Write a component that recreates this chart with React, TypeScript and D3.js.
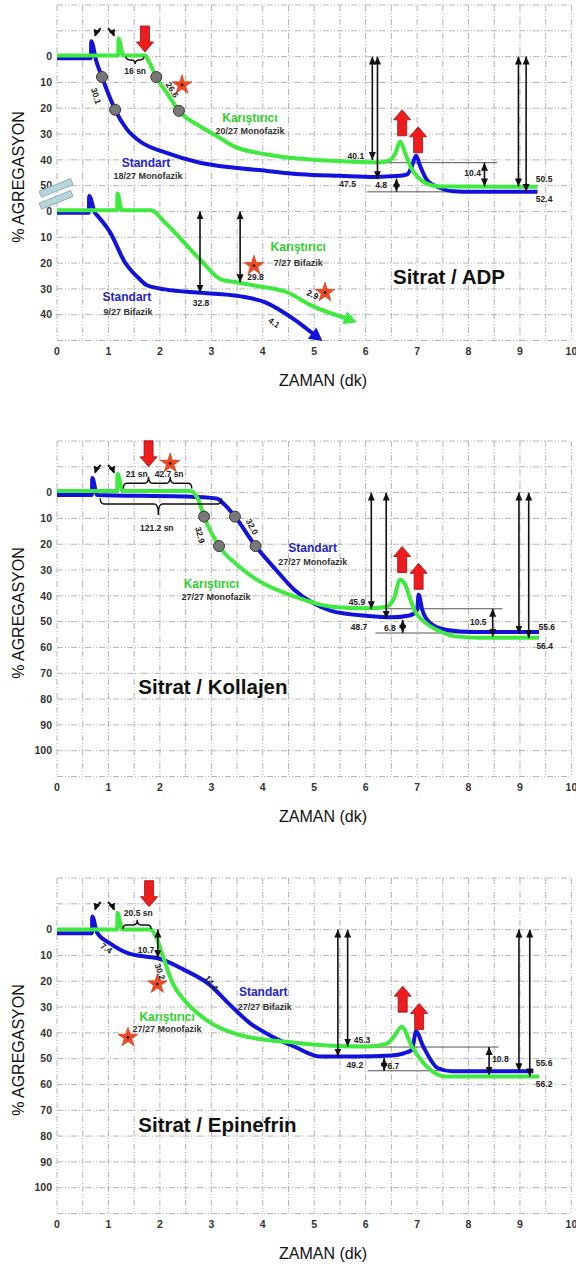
import React from 'react';
import * as d3 from 'd3';

type Pt = [number, number];

// eksenler
const xTicks = d3.range(0, 11);
const yTicksFull = d3.range(0, 101, 10);
const adpUpperTicks = d3.range(0, 51, 10);
const adpLowerTicks = d3.range(0, 41, 10);
const ADP_LOWER_OFFSET = 60;

// Sitrat / ADP - monofazik (ust)
const adpStandart: Pt[] = [
  [0, 0.6], [0.66, 0.6], [0.665, -6], [0.76, 1.5], [0.875, 7.9], [1.0, 14.5], [1.13, 20.6],
  [1.36, 28.2], [1.61, 32.8], [2.13, 37.3], [2.78, 41.1], [3.42, 43], [4.08, 44.3], [4.73, 45.6],
  [5.5, 46.2], [6.2, 46.6], [6.6, 46.3], [6.81, 45.6], [6.9, 42.4], [6.98, 38.4], [7.06, 42.4],
  [7.19, 47.7], [7.45, 50.9], [7.7, 52.2], [8.09, 52.4], [9.34, 52.4],
];
const adpKaristirici: Pt[] = [
  [0, -0.4], [1.19, -0.4], [1.195, -7], [1.29, -0.4], [1.71, -0.4], [1.8, 2.5], [1.93, 7.9],
  [2.15, 14.5], [2.37, 21], [2.78, 27], [3.11, 30.8], [3.43, 34.7], [4.08, 37.9], [4.73, 39.6],
  [5.64, 40.6], [6.28, 41], [6.48, 40], [6.58, 37.4], [6.67, 32.9], [6.77, 37.4], [6.87, 42.6],
  [7.0, 46.4], [7.19, 49.2], [7.45, 50.3], [9.34, 50.4],
];
// Sitrat / ADP - bifazik (alt)
const adpStandartBifazik: Pt[] = [
  [0, 0.5], [0.62, 0.5], [0.625, -6], [0.74, 0.6], [0.78, 1.5], [1.03, 8], [1.32, 19.7],
  [1.61, 26.3], [1.75, 28.6], [2.1, 30.2], [2.82, 31.5], [3.54, 32.8], [4.05, 35.2],
  [4.61, 41.8], [5.16, 50.2],
];
const adpKaristiriciBifazik: Pt[] = [
  [0, -0.5], [1.17, -0.5], [1.175, -7], [1.26, -0.5], [1.83, -0.5], [2.1, 4.3], [2.78, 18.6],
  [3.19, 26.3], [3.54, 27.6], [3.89, 28.9], [4.47, 31.3], [4.96, 36.6], [5.83, 42.9],
];

// Sitrat / Kollajen
const kollajenStandart: Pt[] = [
  [0, 0.9], [0.68, 0.9], [0.685, -5.7], [0.78, 0.9], [2.47, 1.5], [3.1, 2.3], [3.25, 4.5],
  [3.46, 9.3], [3.86, 20.7], [4.26, 30], [4.61, 37.6], [4.97, 42.7], [5.33, 45.8], [6.05, 47.8],
  [6.5, 48.3], [6.85, 47.6], [7.0, 45.5], [7.03, 39.6], [7.1, 45.4], [7.26, 50.6], [7.58, 53.2],
  [8.1, 54], [9.37, 54],
];
const kollajenKaristirici: Pt[] = [
  [0, -0.6], [1.17, -0.6], [1.175, -7.2], [1.28, -0.6], [2.6, -0.6], [2.75, 2.9], [2.86, 9.3],
  [3.15, 20.7], [3.54, 28.6], [3.89, 33.8], [4.61, 40.2], [5.33, 44.2], [6.05, 44.8], [6.4, 44.2],
  [6.55, 41], [6.67, 33.8], [6.77, 35.7], [6.87, 41.5], [6.96, 46], [7.13, 49.9], [7.45, 53.8],
  [7.78, 55.8], [8.2, 56.2], [9.37, 56.2],
];

// Sitrat / Epinefrin
const epiStandart: Pt[] = [
  [0, 1.4], [0.68, 1.4], [0.685, -5.1], [0.78, 1.2], [1.03, 5.3], [1.39, 9.2], [1.75, 10.5],
  [1.96, 11.1], [2.47, 15.6], [2.97, 21.4], [3.33, 28.5], [3.75, 36.2], [4.18, 41.4], [4.61, 45.3],
  [5.12, 49.2], [5.8, 49.2], [6.5, 48.8], [6.75, 47.9], [6.9, 46.6], [6.98, 39.5], [7.12, 45.3],
  [7.4, 53.6], [7.68, 54.9], [9.26, 54.9],
];
const epiKaristirici: Pt[] = [
  [0, 0], [1.17, 0], [1.175, -6.4], [1.27, 0], [1.82, 0], [1.93, 3], [2.04, 9.2], [2.25, 20.8],
  [2.47, 27.2], [2.9, 35], [3.54, 40.8], [4.61, 43.8], [6.04, 45.3], [6.4, 44.3], [6.55, 41.5],
  [6.7, 37.6], [6.9, 45.3], [7.19, 53.1], [7.55, 56.9], [9.37, 56.9],
];

type Lbl = { t: number; v: number; text: string; kind?: string; rot?: number; anchor?: string };
type DArrow = { t: number; v1: number; v2: number };
type HLine = { t1: number; t2: number; v: number };
type Mark = { t: number; v: number };
type RedArrow = { t: number; v: number; dir: 'up' | 'down' };
type Brace = { t1: number; t2: number; cusps: number[]; v: number; endDv: number; cuspDv: number };
type SmallArrow = { t1: number; v1: number; t2: number; v2: number };

const BLUE = '#1212dc';
const GREEN = '#3fea3f';
const FONT = "'Liberation Sans', Arial, Helvetica, sans-serif";

// kisa oklar (trombosit ekleme anlari)
const spikeArrows = (vTop: number): SmallArrow[] => [
  { t1: 0.85, v1: vTop, t2: 0.74, v2: vTop + 2.9 },
  { t1: 0.99, v1: vTop, t2: 1.11, v2: vTop + 2.9 },
];

const panels = [
  {
    top: 5,
    yLabels: adpUpperTicks.map((v) => ({ v, label: String(v) })).concat(
      adpLowerTicks.map((v) => ({ v: v + ADP_LOWER_OFFSET, label: String(v) }))),
    series: [
      { pts: adpStandart, color: BLUE, shift: 0, arrow: false },
      { pts: adpKaristirici, color: GREEN, shift: 0, arrow: false },
      { pts: adpStandartBifazik, color: BLUE, shift: ADP_LOWER_OFFSET, arrow: true },
      { pts: adpKaristiriciBifazik, color: GREEN, shift: ADP_LOWER_OFFSET, arrow: true },
    ],
    dArrows: [
      { t: 6.13, v1: 0, v2: 40.1 }, { t: 6.23, v1: 0, v2: 47.5 }, { t: 8.97, v1: 0, v2: 50.3 },
      { t: 9.12, v1: 0, v2: 52.4 }, { t: 6.6, v1: 47.3, v2: 52.3 }, { t: 8.31, v1: 41.1, v2: 50.3 },
      { t: 2.78, v1: 60, v2: 91.5 }, { t: 3.56, v1: 60, v2: 87.4 },
    ] as DArrow[],
    hLines: [{ t1: 6.03, t2: 8.56, v: 41.1 }, { t1: 6.03, t2: 9.34, v: 52.4 }] as HLine[],
    labels: [
      { t: 1.52, v: 5.5, text: '16 sn' },
      { t: 0.76, v: 15.2, text: '30.1', rot: 72 },
      { t: 2.24, v: 12.9, text: '26.6', rot: 58 },
      { t: 3.75, v: 23.6, text: 'Karıştırıcı', kind: 'kar' },
      { t: 3.75, v: 28.7, text: '20/27 Monofazik', kind: 'sub' },
      { t: 1.73, v: 41.1, text: 'Standart', kind: 'std' },
      { t: 1.77, v: 46.1, text: '18/27 Monofazik', kind: 'sub' },
      { t: 5.81, v: 38.7, text: '40.1' },
      { t: 5.65, v: 49.2, text: '47.5' },
      { t: 6.3, v: 49.6, text: '4.8' },
      { t: 8.08, v: 45.1, text: '10.4' },
      { t: 9.47, v: 47.4, text: '50.5' },
      { t: 9.47, v: 55.2, text: '52.4' },
      { t: 2.8, v: 95.3, text: '32.8' },
      { t: 3.86, v: 85.5, text: '29.8' },
      { t: 4.69, v: 73.6, text: 'Karıştırıcı', kind: 'kar' },
      { t: 4.69, v: 79.8, text: '7/27 Bifazik', kind: 'sub' },
      { t: 1.36, v: 93, text: 'Standart', kind: 'std' },
      { t: 1.38, v: 98.8, text: '9/27 Bifazik', kind: 'sub' },
      { t: 4.97, v: 92.2, text: '2.9', rot: 25 },
      { t: 4.22, v: 103.1, text: '4.1', rot: 35 },
      { t: 7.62, v: 85.2, text: 'Sitrat / ADP', kind: 'title' },
    ] as Lbl[],
    stars: [{ t: 2.43, v: 11 }, { t: 3.83, v: 81 }, { t: 5.21, v: 91.4 }] as Mark[],
    circles: [{ t: 0.875, v: 7.9 }, { t: 1.13, v: 20.6 }, { t: 1.93, v: 7.9 }, { t: 2.37, v: 21 }] as Mark[],
    redArrows: [
      { t: 1.71, v: -1.8, dir: 'down' }, { t: 6.71, v: 20.6, dir: 'up' }, { t: 7.02, v: 27.2, dir: 'up' },
    ] as RedArrow[],
    braces: [{ t1: 1.34, t2: 1.69, cusps: [1.52], v: 1.3, endDv: -1.3, cuspDv: 1.6 }] as Brace[],
    smallArrows: spikeArrows(-11),
    breakBars: [{ t: -0.02, v: 50.8 }, { t: -0.02, v: 55.4 }] as Mark[],
  },
  {
    top: 441,
    yLabels: yTicksFull.map((v) => ({ v, label: String(v) })),
    series: [
      { pts: kollajenStandart, color: BLUE, shift: 0, arrow: false },
      { pts: kollajenKaristirici, color: GREEN, shift: 0, arrow: false },
    ],
    dArrows: [
      { t: 6.11, v1: 0, v2: 45.2 }, { t: 6.4, v1: 0, v2: 48.9 }, { t: 8.98, v1: 0, v2: 54.6 },
      { t: 9.17, v1: 0, v2: 56.4 }, { t: 6.72, v1: 49.3, v2: 54.4 }, { t: 8.47, v1: 45, v2: 55.8 },
    ] as DArrow[],
    hLines: [{ t1: 5.95, t2: 8.66, v: 45 }, { t1: 6.19, t2: 9.37, v: 54.4 }] as HLine[],
    labels: [
      { t: 1.55, v: -7.4, text: '21 sn' },
      { t: 2.18, v: -7.4, text: '42.7 sn' },
      { t: 1.94, v: 13.8, text: '121.2 sn' },
      { t: 2.78, v: 16.4, text: '32.9', rot: 75 },
      { t: 3.79, v: 13.2, text: '32.0', rot: 62 },
      { t: 4.97, v: 21.5, text: 'Standart', kind: 'std' },
      { t: 4.97, v: 26.7, text: '27/27 Monofazik', kind: 'sub' },
      { t: 3.0, v: 35.4, text: 'Karıştırıcı', kind: 'kar' },
      { t: 3.09, v: 40.5, text: '27/27 Monofazik', kind: 'sub' },
      { t: 5.83, v: 42.2, text: '45.9' },
      { t: 5.87, v: 51.9, text: '48.7' },
      { t: 6.47, v: 52.4, text: '6.8' },
      { t: 8.19, v: 50.3, text: '10.5' },
      { t: 9.52, v: 51.9, text: '55.6' },
      { t: 9.48, v: 59.3, text: '56.4' },
      { t: 1.58, v: 75.3, text: 'Sitrat / Kollajen', kind: 'title', anchor: 'start' },
    ] as Lbl[],
    stars: [{ t: 2.2, v: -11.3 }] as Mark[],
    circles: [{ t: 3.46, v: 9.3 }, { t: 3.86, v: 20.7 }, { t: 2.86, v: 9.3 }, { t: 3.15, v: 20.7 }] as Mark[],
    redArrows: [
      { t: 1.78, v: -10, dir: 'down' }, { t: 6.71, v: 20.9, dir: 'up' }, { t: 7.03, v: 27.4, dir: 'up' },
    ] as RedArrow[],
    braces: [
      { t1: 1.29, t2: 2.62, cusps: [1.78, 2.2], v: -3.6, endDv: 2, cuspDv: -2.5 },
      { t1: 0.84, t2: 3.2, cusps: [1.97], v: 4.4, endDv: -2.2, cuspDv: 4.3 },
    ] as Brace[],
    smallArrows: spikeArrows(-10.7),
    breakBars: [] as Mark[],
  },
  {
    top: 878,
    yLabels: yTicksFull.map((v) => ({ v, label: String(v) })),
    series: [
      { pts: epiStandart, color: BLUE, shift: 0, arrow: false },
      { pts: epiKaristirici, color: GREEN, shift: 0, arrow: false },
    ],
    dArrows: [
      { t: 5.46, v1: 0, v2: 49.2 }, { t: 5.65, v1: 0, v2: 45.3 }, { t: 8.98, v1: 0, v2: 54.9 },
      { t: 9.19, v1: 0, v2: 56.9 }, { t: 1.96, v1: 0, v2: 11 }, { t: 6.36, v1: 49.8, v2: 54.7 },
      { t: 8.4, v1: 45.5, v2: 56.2 },
    ] as DArrow[],
    hLines: [{ t1: 5.87, t2: 8.58, v: 45.5 }, { t1: 6.04, t2: 9.26, v: 54.7 }] as HLine[],
    labels: [
      { t: 1.58, v: -6.3, text: '20.5 sn' },
      { t: 0.96, v: 7.2, text: '7.4', rot: 35 },
      { t: 1.73, v: 7.9, text: '10.7' },
      { t: 2.0, v: 16.3, text: '30.2', rot: 72 },
      { t: 3.0, v: 20.7, text: '14.4', rot: 52 },
      { t: 4.01, v: 24, text: 'Standart', kind: 'std' },
      { t: 4.04, v: 29.8, text: '27/27 Bifazik', kind: 'sub' },
      { t: 2.14, v: 33.7, text: 'Karıştırıcı', kind: 'kar' },
      { t: 2.14, v: 38.6, text: '27/27 Monofazik', kind: 'sub' },
      { t: 5.93, v: 42.7, text: '45.3' },
      { t: 5.79, v: 52.4, text: '49.2' },
      { t: 6.54, v: 53, text: '6.7' },
      { t: 8.62, v: 50.2, text: '10.8' },
      { t: 9.47, v: 51.6, text: '55.6' },
      { t: 9.47, v: 59.7, text: '56.2' },
      { t: 1.58, v: 75.6, text: 'Sitrat / Epinefrin', kind: 'title', anchor: 'start' },
    ] as Lbl[],
    stars: [{ t: 1.95, v: 21.1 }, { t: 1.38, v: 41.8 }] as Mark[],
    circles: [] as Mark[],
    redArrows: [
      { t: 1.79, v: -8.9, dir: 'down' }, { t: 6.72, v: 21.9, dir: 'up' }, { t: 7.04, v: 28.6, dir: 'up' },
    ] as RedArrow[],
    braces: [{ t1: 1.28, t2: 1.83, cusps: [1.56], v: -1.8, endDv: 1.6, cuspDv: -2 }] as Brace[],
    smallArrows: spikeArrows(-10.7),
    breakBars: [] as Mark[],
  },
];

const labelStyle: Record<string, { size: number; fill: string }> = {
  num: { size: 8.5, fill: '#222' },
  sub: { size: 9, fill: '#333' },
  std: { size: 12, fill: '#2323cf' },
  kar: { size: 12, fill: '#2fcf2f' },
  title: { size: 20.5, fill: '#111' },
};

function bracePath(x1: number, x2: number, cusps: number[], y: number, hEnd: number, hCusp: number) {
  const r = 4;
  let p = `M${x1},${y + hEnd} Q${x1},${y} ${x1 + r},${y}`;
  cusps.forEach((c) => {
    p += ` L${c - r},${y} Q${c},${y} ${c},${y + hCusp} Q${c},${y} ${c + r},${y}`;
  });
  p += ` L${x2 - r},${y} Q${x2},${y} ${x2},${y + hEnd}`;
  return p;
}

function redArrowPath(x: number, y: number, dir: 'up' | 'down') {
  const s = dir === 'down' ? -1 : 1; // govde ucun tersine uzanir
  const len = 26, head = 10, sw = 4.5, hw = 8.5;
  return `M${x},${y} L${x + hw},${y + s * head} L${x + sw},${y + s * head} L${x + sw},${y + s * len}` +
    ` L${x - sw},${y + s * len} L${x - sw},${y + s * head} L${x - hw},${y + s * head} Z`;
}

function Panel({ cfg }: { cfg: (typeof panels)[number] }) {
  const x = d3.scaleLinear().domain([0, 10]).range([57, 571.4]);
  const y = d3.scaleLinear().domain([-20, 110]).range([cfg.top, cfg.top + 335.5]);
  const line = d3.line<Pt>().x((d) => x(d[0])).y((d) => y(d[1])).curve(d3.curveMonotoneX);
  const star = d3.symbol().type(d3.symbolStar).size(120)() as string;

  return (
    <g>
      {/* izgara */}
      {d3.range(0, 10.01, 0.5).map((t) => (
        <line key={'gv' + t} x1={x(t)} x2={x(t)} y1={y(-20)} y2={y(110)}
          stroke="#b4b4b4" strokeWidth={1} strokeDasharray="6 2 1 2 1 2" />
      ))}
      {d3.range(-20, 111, 10).map((v) => (
        <line key={'gh' + v} x1={x(0)} x2={x(10)} y1={y(v)} y2={y(v)}
          stroke="#b4b4b4" strokeWidth={1} strokeDasharray="6 2 1 2 1 2" />
      ))}

      {/* eksen yazilari */}
      {cfg.yLabels.map((d) => (
        <text key={'yl' + d.v} x={52} y={y(d.v)} dy="0.35em" textAnchor="end"
          fontSize={10.5} fontWeight="bold" fill="#333">{d.label}</text>
      ))}
      {xTicks.map((t) => (
        <text key={'xl' + t} x={x(t)} y={cfg.top + 349.5} textAnchor="middle"
          fontSize={10.5} fontWeight="bold" fill="#333">{t}</text>
      ))}
      <text x={323} y={cfg.top + 381} textAnchor="middle" fontSize={16} fill="#111">ZAMAN (dk)</text>
      <text transform={`translate(18,${cfg.top + 172}) rotate(-90)`} dy="0.35em" textAnchor="middle"
        fontSize={16} fill="#111">% AGREGASYON</text>

      {cfg.breakBars.map((b, i) => (
        <rect key={'bb' + i} x={-17} y={-3} width={34} height={6.5}
          transform={`translate(${x(b.t)},${y(b.v)}) rotate(-22)`}
          fill="#b7d3dc" stroke="#8aa6b0" strokeWidth={0.8} />
      ))}

      {cfg.hLines.map((h, i) => (
        <line key={'hl' + i} x1={x(h.t1)} x2={x(h.t2)} y1={y(h.v)} y2={y(h.v)} stroke="#555" strokeWidth={1} />
      ))}

      {/* egriler */}
      {cfg.series.map((s, i) => {
        const pts: Pt[] = s.pts.map((d) => [d[0], d[1] + s.shift]);
        let head: string | null = null;
        if (s.arrow) {
          const a = pts[pts.length - 2];
          const b = pts[pts.length - 1];
          const dx = x(b[0]) - x(a[0]);
          const dy = y(b[1]) - y(a[1]);
          const n = Math.hypot(dx, dy);
          const ux = dx / n, uy = dy / n;
          const tx = x(b[0]), ty = y(b[1]);
          const bx = tx - ux * 13, by = ty - uy * 13;
          head = `M${tx},${ty} L${bx - uy * 7},${by + ux * 7} L${bx + uy * 7},${by - ux * 7} Z`;
          pts[pts.length - 1] = [x.invert(tx - ux * 9), y.invert(ty - uy * 9)];
        }
        return (
          <g key={'s' + i}>
            <path d={line(pts) as string} fill="none" stroke={s.color} strokeWidth={4}
              strokeLinejoin="round" />
            {head && <path d={head} fill={s.color} />}
          </g>
        );
      })}

      {cfg.circles.map((c, i) => (
        <circle key={'c' + i} cx={x(c.t)} cy={y(c.v)} r={5.5} fill="#787878" stroke="#3a3a3a" strokeWidth={1} />
      ))}

      {cfg.dArrows.map((a, i) => (
        <line key={'da' + i} x1={x(a.t)} x2={x(a.t)} y1={y(a.v1)} y2={y(a.v2)} stroke="#111"
          strokeWidth={1.6} markerStart="url(#ah)" markerEnd="url(#ah)" />
      ))}

      {cfg.smallArrows.map((a, i) => {
        const x1 = x(a.t1), y1 = y(a.v1), x2 = x(a.t2), y2 = y(a.v2);
        const cx = (x1 + x2) / 2 + (y2 - y1) * 0.2 * Math.sign(x2 - x1);
        const cy = (y1 + y2) / 2;
        return (
          <path key={'sa' + i} d={`M${x1},${y1} Q${cx},${cy} ${x2},${y2}`} fill="none" stroke="#111"
            strokeWidth={2} markerEnd="url(#ahs)" />
        );
      })}

      {cfg.braces.map((b, i) => (
        <path key={'br' + i}
          d={bracePath(x(b.t1), x(b.t2), b.cusps.map((c) => x(c)), y(b.v),
            y(b.v + b.endDv) - y(b.v), y(b.v + b.cuspDv) - y(b.v))}
          fill="none" stroke="#111" strokeWidth={1.4} />
      ))}

      {cfg.redArrows.map((r, i) => (
        <path key={'ra' + i} d={redArrowPath(x(r.t), y(r.v), r.dir)} fill="#ee1c1c" stroke="#a01010" strokeWidth={0.8} />
      ))}

      {cfg.stars.map((s, i) => (
        <g key={'st' + i} transform={`translate(${x(s.t)},${y(s.v)})`}>
          <path d={star} fill="#f24a1e" stroke="#c8300f" strokeWidth={0.6} />
          <circle r={1.4} fill="#222" />
        </g>
      ))}

      {cfg.labels.map((l, i) => {
        const st = labelStyle[l.kind || 'num'];
        return (
          <text key={'lb' + i} transform={`translate(${x(l.t)},${y(l.v)}) rotate(${l.rot || 0})`}
            dy="0.35em" textAnchor={l.anchor || 'middle'} fontSize={st.size} fontWeight="bold"
            fill={st.fill}>{l.text}</text>
        );
      })}
    </g>
  );
}

export default function App() {
  return (
    <svg width={576} height={1267} style={{ position: 'absolute', left: 0, top: 0, background: '#fff' }}
      fontFamily={FONT}>
      <defs>
        <marker id="ah" markerUnits="userSpaceOnUse" markerWidth={9} markerHeight={8} refX={8} refY={3.5}
          orient="auto-start-reverse">
          <path d="M0,0 L8,3.5 L0,7 Z" fill="#111" />
        </marker>
        <marker id="ahs" markerUnits="userSpaceOnUse" markerWidth={9} markerHeight={9} refX={6} refY={3.5}
          orient="auto">
          <path d="M0,0 L7,3.5 L0,7 Z" fill="#111" />
        </marker>
      </defs>
      <rect width={576} height={1267} fill="#fff" />
      {panels.map((p, i) => (
        <Panel key={i} cfg={p} />
      ))}
    </svg>
  );
}
